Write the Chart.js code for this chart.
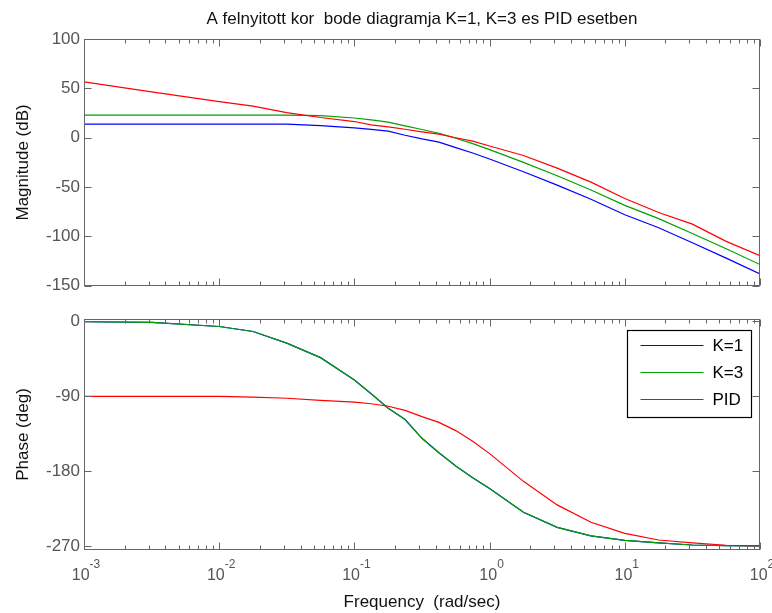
<!DOCTYPE html>
<html>
<head>
<meta charset="utf-8">
<script src="https://cdn.jsdelivr.net/npm/chart.js@4.4.1/dist/chart.umd.min.js"></script>
<style>
  body { margin: 0; background: #fff; }
  #wrap { position: relative; width: 772px; height: 613px; }
  canvas { position: absolute; left: 0; }
</style>
</head>
<body>
<div id="wrap">
  <canvas id="mag_chart" width="772" height="300" style="top:0"></canvas>
  <canvas id="phase_chart" width="772" height="313" style="top:300px"></canvas>
</div>
<script>
const freq = [0.001, 0.00316, 0.01, 0.0178, 0.0316, 0.0562, 0.1, 0.133, 0.178, 0.237, 0.316, 0.422,
              0.562, 0.75, 1, 1.78, 3.16, 5.62, 10, 17.8, 31.6, 56.2, 100];

// magnitude (dB)
const magK1  = [13.8, 13.8, 13.8, 13.8, 13.8, 12.3, 10, 8.5, 6.6, 2.5, -1.2, -4.5,
                -10, -15.5, -21.5, -34.5, -48, -62.3, -78, -91.2, -106.4, -122, -138];
const magK3  = [22.9, 22.9, 22.9, 22.9, 22.9, 22.3, 20, 18, 15.8, 12, 8.3, 4.5,
                -0.5, -6, -12, -25, -38.5, -53, -68.5, -82, -97, -112.5, -128.5];
const magPID = [56.6, 46.4, 36.5, 32, 25.5, 20.5, 16.4, 13, 11, 8.6, 6, 3.6,
                0, -3.5, -8.4, -18, -30.8, -45, -61.5, -75.8, -87.5, -105, -119.5];

// phase (deg)
const phaseK1  = [-0.3, -1, -6, -12, -26, -43.5, -70.5, -87, -104.5, -118, -140.6, -158,
                  -174, -188, -201, -229.5, -247.7, -258, -263.4, -266.5, -269, -269.7, -270];
const phaseK3  = phaseK1.slice(); // gain does not change the phase
const phasePID = [-90, -90, -90, -91, -92.4, -95, -97, -99, -102, -107, -114.5, -121.4,
                  -131.3, -144, -159, -192.4, -220.7, -241.6, -255, -263, -266.5, -269.3, -270];

const seriesLabels = ['K=1', 'K=3', 'PID'];
const seriesColors = ['#0000ff', '#00a000', '#ff0000'];

// ticks
const freqTicks = [0.001, 0.01, 0.1, 1, 10, 100];
const freqTickExps = ['-3', '-2', '-1', '0', '1', '2'];
const magTicks = [-150, -100, -50, 0, 50, 100];
const phaseTicks = [-270, -180, -90, 0];

const FONT = 'Liberation Sans';
const AXIS_GRAY = '#666';
const LABEL_GRAY = '#555';
const TEXT = '#111';

function makeDatasets(values) {
    return values.map((vals, i) => ({
        label: seriesLabels[i],
        data: freq.map((f, j) => ({x: f, y: vals[j]})),
        borderColor: seriesColors[i],
        backgroundColor: seriesColors[i],
        borderWidth: 1.2,
        pointRadius: 0,
        tension: 0,
        order: 3 - i   // PID drawn on top, like MATLAB
    }));
}

// MATLAB style box with inside ticks, decade labels and the legend
const matlabAxes = {
    id: 'matlabAxes',
    afterDraw(chart, args, opts) {
        const {ctx, chartArea: a, scales: {x, y}} = chart;
        const L = Math.round(a.left) + 0.5, R = Math.round(a.right) - 0.5;
        const T = Math.round(a.top) + 0.5, B = Math.round(a.bottom) - 0.5;
        ctx.save();
        ctx.strokeStyle = AXIS_GRAY;
        ctx.lineWidth = 1;
        ctx.strokeRect(L, T, R - L, B - T);
        ctx.beginPath();
        freqTicks.forEach(dec => {
            for (let m = 1; m < 10; m++) {
                const v = dec * m;
                if (v > 100) break;
                const px = Math.round(x.getPixelForValue(v)) + 0.5;
                const len = m === 1 ? 7 : 4;
                ctx.moveTo(px, T); ctx.lineTo(px, T + len);
                ctx.moveTo(px, B); ctx.lineTo(px, B - len);
            }
        });
        y.ticks.forEach(t => {
            const py = Math.round(y.getPixelForValue(t.value)) + 0.5;
            ctx.moveTo(L, py); ctx.lineTo(L + 7, py);
            ctx.moveTo(R, py); ctx.lineTo(R - 7, py);
        });
        ctx.stroke();

        if (opts.decadeLabels) {
            ctx.fillStyle = LABEL_GRAY;
            ctx.textBaseline = 'alphabetic';
            ctx.textAlign = 'left';
            freqTicks.forEach((v, i) => {
                const px = x.getPixelForValue(v);
                ctx.font = '16px ' + FONT;
                const w1 = ctx.measureText('10').width;
                ctx.font = '12px ' + FONT;
                const w2 = ctx.measureText(freqTickExps[i]).width;
                const x0 = px - (w1 + w2) / 2 + 2;
                ctx.font = '16px ' + FONT;
                ctx.fillText('10', x0, a.bottom + 30);
                ctx.font = '12px ' + FONT;
                ctx.fillText(freqTickExps[i], x0 + w1, a.bottom + 18);
            });
        }

        if (opts.legend) {
            const bx = Math.round(a.right) - 132.5, by = Math.round(a.top) + 11.5;
            const bw = 124, bh = 87;
            ctx.fillStyle = '#fff';
            ctx.fillRect(bx, by, bw, bh);
            ctx.strokeStyle = '#000';
            ctx.lineWidth = 1.2;
            ctx.strokeRect(bx, by, bw, bh);
            ctx.font = '17px ' + FONT;
            ctx.textBaseline = 'middle';
            ctx.textAlign = 'left';
            chart.data.datasets.forEach((ds, i) => {
                const ly = by + 15 + i * 27;
                ctx.strokeStyle = ds.borderColor;
                ctx.lineWidth = 1.2;
                ctx.beginPath();
                ctx.moveTo(bx + 13, ly); ctx.lineTo(bx + 76, ly);
                ctx.stroke();
                ctx.fillStyle = '#000';
                ctx.fillText(ds.label, bx + 85, ly + 1);
            });
        }
        ctx.restore();
    }
};

function yScale(min, max, ticks, title) {
    return {
        type: 'linear',
        min, max,
        afterBuildTicks: s => { s.ticks = ticks.map(v => ({value: v})); },
        afterFit: s => { s.width = 84; },
        grid: {display: false, drawTicks: false},
        border: {display: false},
        ticks: {color: LABEL_GRAY, font: {family: FONT, size: 17}, padding: 4},
        title: {display: true, text: title, color: TEXT, font: {family: FONT, size: 17}, padding: {top: 13, bottom: 0}}
    };
}

const magChart = new Chart(document.getElementById('mag_chart').getContext('2d'), {
    type: 'line',
    data: {datasets: makeDatasets([magK1, magK3, magPID])},
    options: {
        responsive: false,
        animation: false,
        layout: {padding: {top: 0, right: 12, bottom: 2, left: 0}},
        plugins: {
            legend: {display: false},
            tooltip: {enabled: false},
            title: {
                display: true,
                fullSize: false,
                text: 'A felnyitott kor  bode diagramja K=1, K=3 es PID esetben',
                color: TEXT,
                font: {family: FONT, size: 17, weight: 'normal'},
                padding: {top: 9, bottom: 9.6}
            },
            matlabAxes: {legend: false, decadeLabels: false}
        },
        scales: {
            x: {type: 'logarithmic', min: 0.001, max: 100, display: false},
            y: yScale(-150, 100, magTicks, 'Magnitude (dB)')
        }
    },
    plugins: [matlabAxes]
});

const phaseChart = new Chart(document.getElementById('phase_chart').getContext('2d'), {
    type: 'line',
    data: {datasets: makeDatasets([phaseK1, phaseK3, phasePID])},
    options: {
        responsive: false,
        animation: false,
        layout: {padding: {top: 19, right: 12, bottom: 0, left: 0}},
        plugins: {
            legend: {display: false},
            tooltip: {enabled: false},
            matlabAxes: {legend: true, decadeLabels: true}
        },
        scales: {
            x: {
                type: 'logarithmic',
                min: 0.001, max: 100,
                afterBuildTicks: s => { s.ticks = freqTicks.map(v => ({value: v})); },
                afterFit: s => { s.height = 63; s.paddingLeft = 0; s.paddingRight = 0; },
                grid: {display: false, drawTicks: false},
                border: {display: false},
                ticks: {display: false},
                title: {display: true, text: 'Frequency  (rad/sec)', color: TEXT, font: {family: FONT, size: 17}, padding: {top: 0, bottom: 0}}
            },
            y: yScale(-275, 3, phaseTicks, 'Phase (deg)')
        }
    },
    plugins: [matlabAxes]
});
</script>
</body>
</html>
